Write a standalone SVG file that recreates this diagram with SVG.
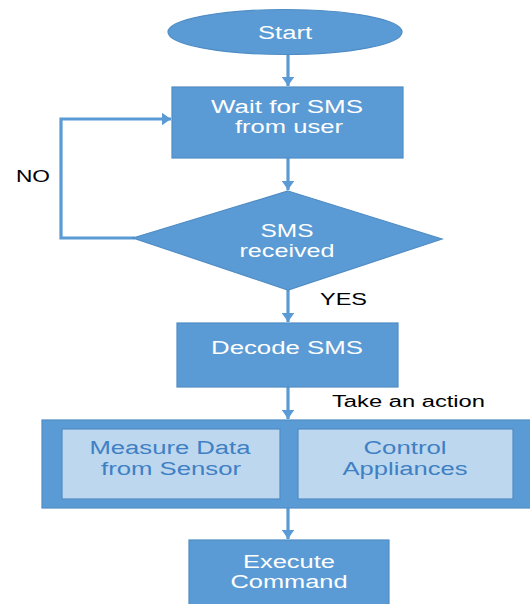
<svg xmlns="http://www.w3.org/2000/svg" width="530" height="604" viewBox="0 0 530 604">
<style>
.n{fill:#5b9bd5;stroke:#4f8cc4;stroke-width:1.2}
.in{fill:#bdd7ee;stroke:#4f8cc4;stroke-width:1.2}
.t{font-family:"Liberation Sans",Arial,sans-serif;font-size:18px;fill:#ffffff;text-anchor:middle}
.ti{font-family:"Liberation Sans",Arial,sans-serif;font-size:18px;fill:#3f80c4;text-anchor:middle}
.l{font-family:"Liberation Sans",Arial,sans-serif;font-size:16px;fill:#000000}
.c{fill:none;stroke:#5b9bd5;stroke-width:3.2}
</style>
<defs>
<marker id="ah" viewBox="0 0 10 10" refX="10" refY="5" markerWidth="2.9" markerHeight="4" orient="auto" markerUnits="strokeWidth" preserveAspectRatio="none">
<path d="M0,0 L10,5 L0,10 Z" fill="#5b9bd5"/>
</marker>
</defs>
<rect width="530" height="604" fill="#ffffff"/>
<g id="connectors">
<path class="c" d="M288,55 V86" marker-end="url(#ah)"/>
<path class="c" d="M288,158 V190" marker-end="url(#ah)"/>
<path class="c" d="M135,238 H61 V119 H171" marker-end="url(#ah)"/>
<path class="c" d="M288,290 V322" marker-end="url(#ah)"/>
<path class="c" d="M288,387 V419" marker-end="url(#ah)"/>
<path class="c" d="M288,508 V539" marker-end="url(#ah)"/>
</g>
<g id="start">
<ellipse class="n" cx="285" cy="32" rx="117" ry="22.5"/>
<text class="t" x="285" y="39" textLength="54" lengthAdjust="spacingAndGlyphs">Start</text>
</g>
<g id="wait">
<rect class="n" x="172" y="87" width="231" height="71"/>
<text class="t" x="287" y="113" textLength="152" lengthAdjust="spacingAndGlyphs">Wait for SMS</text>
<text class="t" x="289" y="133" textLength="108" lengthAdjust="spacingAndGlyphs">from user</text>
</g>
<g id="decision">
<polygon class="n" points="288,191 442,239 288,290 133,238"/>
<text class="t" x="287" y="237" textLength="53" lengthAdjust="spacingAndGlyphs">SMS</text>
<text class="t" x="287" y="257" textLength="95" lengthAdjust="spacingAndGlyphs">received</text>
</g>
<g id="decode">
<rect class="n" x="177" y="323" width="221" height="64"/>
<text class="t" x="287" y="354" textLength="152" lengthAdjust="spacingAndGlyphs">Decode SMS</text>
</g>
<g id="action">
<rect class="n" x="42" y="420" width="490" height="88"/>
</g>
<g id="measure">
<rect class="in" x="62" y="429" width="218" height="70"/>
<text class="ti" x="170" y="454" textLength="161" lengthAdjust="spacingAndGlyphs">Measure Data</text>
<text class="ti" x="171" y="475" textLength="140" lengthAdjust="spacingAndGlyphs">from Sensor</text>
</g>
<g id="control">
<rect class="in" x="298" y="429" width="215" height="70"/>
<text class="ti" x="405" y="454" textLength="83" lengthAdjust="spacingAndGlyphs">Control</text>
<text class="ti" x="405" y="475" textLength="125" lengthAdjust="spacingAndGlyphs">Appliances</text>
</g>
<g id="execute">
<rect class="n" x="189" y="540" width="200" height="70"/>
<text class="t" x="289" y="568" textLength="92" lengthAdjust="spacingAndGlyphs">Execute</text>
<text class="t" x="289" y="588" textLength="117" lengthAdjust="spacingAndGlyphs">Command</text>
</g>
<g id="labels">
<text class="l" x="16" y="182" textLength="34" lengthAdjust="spacingAndGlyphs">NO</text>
<text class="l" x="320" y="305" textLength="47" lengthAdjust="spacingAndGlyphs">YES</text>
<text class="l" x="332" y="407" textLength="153" lengthAdjust="spacingAndGlyphs">Take an action</text>
</g>
</svg>
